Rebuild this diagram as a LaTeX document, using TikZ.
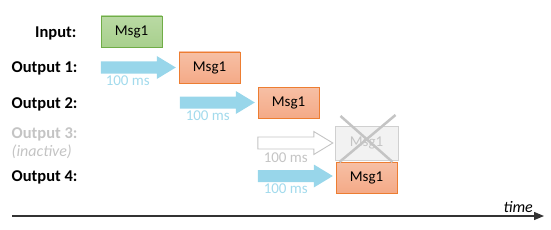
\documentclass[tikz,border=0pt]{standalone}
\usepackage{fontspec}
\setmainfont{Carlito}
\usetikzlibrary{arrows.meta, positioning}
\definecolor{ingreen}{RGB}{168,208,141}
\definecolor{ingreenline}{RGB}{112,173,71}
\definecolor{outorange}{RGB}{244,170,135}
\definecolor{outorangeline}{RGB}{237,125,49}
\definecolor{delayblue}{RGB}{152,214,234}
\definecolor{offgray}{RGB}{196,196,196}

\newcommand{\delayarrow}[2]{%
  \path[#1] (#2) -- ++(-19,-11.5) -- ++(0,5.5) -- ++(-56,0) -- ++(0,12)
    -- ++(56,0) -- ++(0,5.5) -- cycle;}

\begin{document}
\begin{tikzpicture}[x=1pt, y=-1pt,
    rowlabel/.style={anchor=east, font=\fontsize{16.5}{18}\selectfont\bfseries},
    msgbox/.style={minimum width=61pt, minimum height=31pt, inner sep=0pt,
      font=\fontsize{15}{17}\selectfont},
    inbox/.style={msgbox, draw=ingreenline, top color=ingreen!80, bottom color=ingreen},
    outbox/.style={msgbox, draw=outorangeline, top color=outorange!75, bottom color=outorange},
    offbox/.style={msgbox, minimum width=63pt, minimum height=34pt, draw=offgray!80,
      fill=gray!10, text=offgray},
    delay/.style={fill=delayblue},
    delayoff/.style={draw=offgray, line width=0.9pt, fill=white},
    delaytext/.style={font=\fontsize{15}{17}\selectfont, text=delayblue!90}]
    \useasboundingbox (0,0) rectangle (551,230);

    % Zeilen
    \node[rowlabel] (lin) at (80,33) {Input:};
    \node[rowlabel] (lout1) at (81,68) {Output 1:};
    \node[rowlabel] (lout2) at (81,104) {Output 2:};
    \node[rowlabel, text=offgray] (lout3) at (81,134) {Output 3:};
    \node[anchor=west, font=\fontsize{16}{18}\selectfont\itshape, text=offgray] (linact)
      at (lout3.west |- 0,152) {(inactive)};
    \node[rowlabel] (lout4) at (81,177) {Output 4:};

    % Nachrichten
    \node[inbox] (min) at (131.5,31.5) {Msg1};
    \node[outbox] (m1) at (209.5,67.5) {Msg1};
    \node[outbox] (m2) at (288.5,102.5) {Msg1};
    \node[offbox] (m3) at (366.5,143) {Msg1};
    \node[outbox] (m4) at (366.5,177.5) {Msg1};

    % durchgestrichen
    \draw[offgray, line width=2.5pt] ([shift={(-26,-27)}]m3.center) -- ([shift={(26,19)}]m3.center);
    \draw[offgray, line width=2.5pt] ([shift={(29,-28)}]m3.center) -- ([shift={(-27,19)}]m3.center);

    % Verzoegerung
    \coordinate (t1) at ([xshift=-3pt]m1.west);
    \coordinate (t2) at ([xshift=-3pt]m2.west);
    \coordinate (t3) at ([xshift=-2pt]m3.west);
    \coordinate (t4) at ([xshift=-3pt,yshift=1.5pt]m4.west);
    \delayarrow{delay}{t1}
    \delayarrow{delay}{t2}
    \delayarrow{delayoff}{t3}
    \delayarrow{delay}{t4}
    \node[delaytext] (d1) at ([shift={(-48,13)}]t1) {100 ms};
    \node[delaytext] (d2) at ([shift={(-47,13)}]t2) {100 ms};
    \node[delaytext, text=offgray] (d3) at ([shift={(-47,15)}]t3) {100 ms};
    \node[delaytext] (d4) at ([shift={(-47,13)}]t4) {100 ms};

    % Zeitachse
    \coordinate (t0) at (12,216);
    \coordinate (tend) at (544,216);
    \draw[line width=1.3pt, black!80, -{Triangle[length=10pt, width=8pt]}] (t0) -- (tend);
    \node[anchor=south east, font=\fontsize{16}{18}\selectfont\itshape, inner sep=1pt] (ltime)
      at ([shift={(-10,-2)}]tend) {time};
\end{tikzpicture}
\end{document}
